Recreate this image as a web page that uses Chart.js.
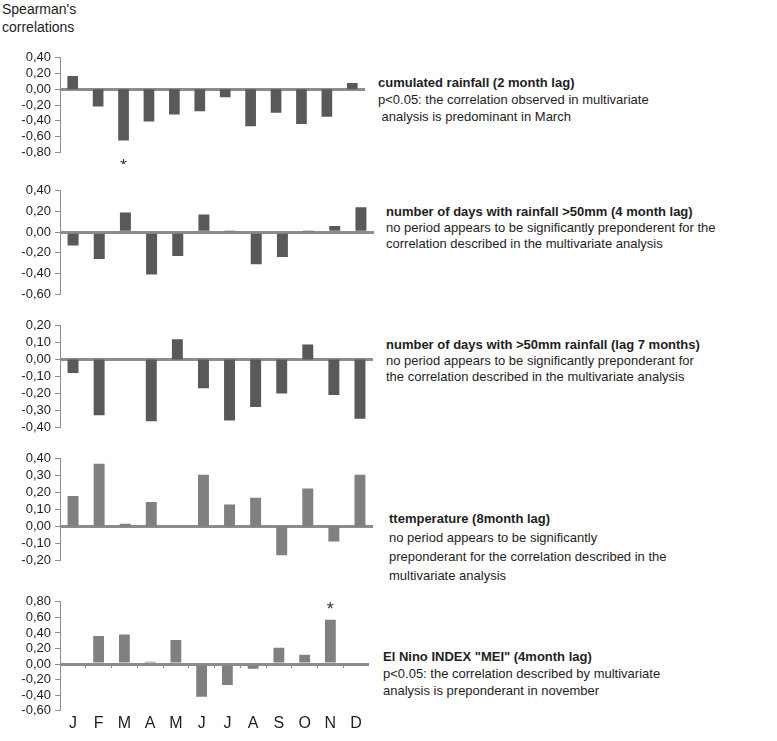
<!DOCTYPE html>
<html>
<head>
<meta charset="utf-8">
<script src="https://cdn.jsdelivr.net/npm/chart.js@4"></script>
<style>
  body { margin: 0; background: #fff; font-family: "Liberation Sans", Arial, sans-serif; color: #1e1e1e; }
  #wrap { position: relative; width: 777px; height: 741px; overflow: hidden; }
  canvas { position: absolute; left: 0; }
  .txt { position: absolute; font-size: 13px; white-space: pre; }
  .txt b { font-weight: bold; }
</style>
</head>
<body>
<div id="wrap">
  <div class="txt" style="left:2px;top:0px;line-height:18px;font-size:14px;">Spearman's
correlations</div>

  <canvas id="c1" width="365" height="118" style="top:46px"></canvas>
  <canvas id="c2" width="374" height="127" style="top:179px"></canvas>
  <canvas id="c3" width="373" height="125" style="top:314px"></canvas>
  <canvas id="c4" width="373" height="125" style="top:447px"></canvas>
  <canvas id="c5" width="369" height="150" style="top:590px"></canvas>

  <div class="txt" style="left:378px;top:74px;line-height:17px;"><b>cumulated rainfall (2 month lag)</b>
p&lt;0.05: the correlation observed in multivariate
 analysis is predominant in March</div>
  <div class="txt" style="left:386px;top:204px;line-height:16px;"><b>number of days with rainfall &gt;50mm (4 month lag)</b>
no period appears to be significantly preponderent for the
correlation described in the multivariate analysis</div>
  <div class="txt" style="left:386px;top:337px;line-height:16px;"><b>number of days with &gt;50mm rainfall (lag 7 months)</b>
no period appears to be significantly preponderant for
the correlation described in the multivariate analysis</div>
  <div class="txt" style="left:389px;top:509px;line-height:19px;"><b>ttemperature (8month lag)</b>
no period appears to be significantly
preponderant for the correlation described in the
multivariate analysis</div>
  <div class="txt" style="left:383px;top:648px;line-height:17px;"><b>El Nino INDEX "MEI" (4month lag)</b>
p&lt;0.05: the correlation described by multivariate
analysis is preponderant in november</div>
</div>

<script>
const months = ['J', 'F', 'M', 'A', 'M', 'J', 'J', 'A', 'S', 'O', 'N', 'D'];

// spearman correlations per month
const rainfallLag2 = [0.17, -0.22, -0.65, -0.41, -0.32, -0.28, -0.10, -0.47, -0.30, -0.44, -0.35, 0.08];
const days50Lag4 = [-0.13, -0.26, 0.19, -0.41, -0.23, 0.17, 0.01, -0.31, -0.24, 0.01, 0.06, 0.24];
const days50Lag7 = [-0.08, -0.33, 0, -0.365, 0.12, -0.17, -0.36, -0.28, -0.20, 0.09, -0.21, -0.35];
const tempLag8 = [0.18, 0.37, 0.015, 0.145, 0, 0.305, 0.13, 0.17, -0.17, 0.225, -0.09, 0.305];
const meiLag4 = [-0.01, 0.36, 0.38, 0.03, 0.31, -0.42, -0.27, -0.06, 0.21, 0.12, 0.57, 0];

const GRAY = '#8c8c8c';

const starPlugin = {
    id: 'stars',
    afterDatasetsDraw(chart, args, opts) {
        if (opts.index == null) return;
        const ctx = chart.ctx;
        const v = chart.data.datasets[0].data[opts.index];
        const x = chart.scales.x.getPixelForValue(opts.index);
        const y = chart.scales.y.getPixelForValue(v) + opts.dy;
        ctx.save();
        ctx.fillStyle = '#333';
        ctx.font = '18px "Liberation Sans", Arial';
        ctx.textAlign = 'center';
        ctx.textBaseline = 'middle';
        ctx.fillText('*', x, y + 3);
        ctx.restore();
    }
};

function fmt(v) {
    if (Math.abs(v) < 1e-9) v = 0;
    return v.toFixed(2).replace('.', ',');
}

function makePanel(id, values, color, min, max, step, opts) {
    opts = opts || {};
    const scales = {
        x: {
            display: !!opts.showMonths,
            offset: true,
            grid: { display: false, drawTicks: false },
            border: { display: false },
            ticks: { color: '#1e1e1e', font: { size: 16, family: '"Liberation Sans", Arial' }, padding: 3, maxRotation: 0, autoSkip: false }
        },
        y: {
            min: min,
            max: max,
            z: 1,
            afterFit(s) { s.width = 60; },
            border: { display: true, color: GRAY, width: 1 },
            grid: {
                color: c => Math.abs(c.tick.value) < 1e-9 ? GRAY : 'rgba(0,0,0,0)',
                lineWidth: c => Math.abs(c.tick.value) < 1e-9 ? 3 : 1,
                tickColor: GRAY,
                tickWidth: 1,
                tickLength: 5
            },
            ticks: {
                stepSize: step,
                autoSkip: false,
                color: '#1e1e1e',
                padding: 4,
                font: { size: 13, family: '"Liberation Sans", Arial' },
                callback: v => fmt(v)
            }
        }
    };
    if (opts.zeroTicks) {
        scales.x0 = {
            type: 'category',
            position: { y: 0 },
            offset: true,
            grid: { offset: true, drawOnChartArea: false, drawTicks: true, tickLength: 4, color: GRAY },
            border: { display: false },
            ticks: { display: false }
        };
    }
    return new Chart(document.getElementById(id).getContext('2d'), {
        type: 'bar',
        data: {
            labels: months,
            datasets: [{
                data: values,
                backgroundColor: color,
                barPercentage: 0.42,
                categoryPercentage: 1
            }]
        },
        options: {
            responsive: false,
            animation: false,
            layout: { padding: { top: 8, bottom: opts.showMonths ? 4 : 8, left: 0, right: 0 } },
            plugins: {
                legend: { display: false },
                tooltip: { enabled: false },
                stars: { index: opts.star, dy: opts.starDy || 0 }
            },
            scales: scales
        },
        plugins: [starPlugin]
    });
}

makePanel('c1', rainfallLag2, '#595959', -0.8, 0.4, 0.2, { star: 2, starDy: 24 });
makePanel('c2', days50Lag4, '#595959', -0.6, 0.4, 0.2);
makePanel('c3', days50Lag7, '#595959', -0.4, 0.2, 0.1);
makePanel('c4', tempLag8, '#808080', -0.2, 0.4, 0.1);
makePanel('c5', meiLag4, '#808080', -0.6, 0.8, 0.2, { showMonths: true, zeroTicks: true, star: 10, starDy: -13 });
</script>
</body>
</html>
